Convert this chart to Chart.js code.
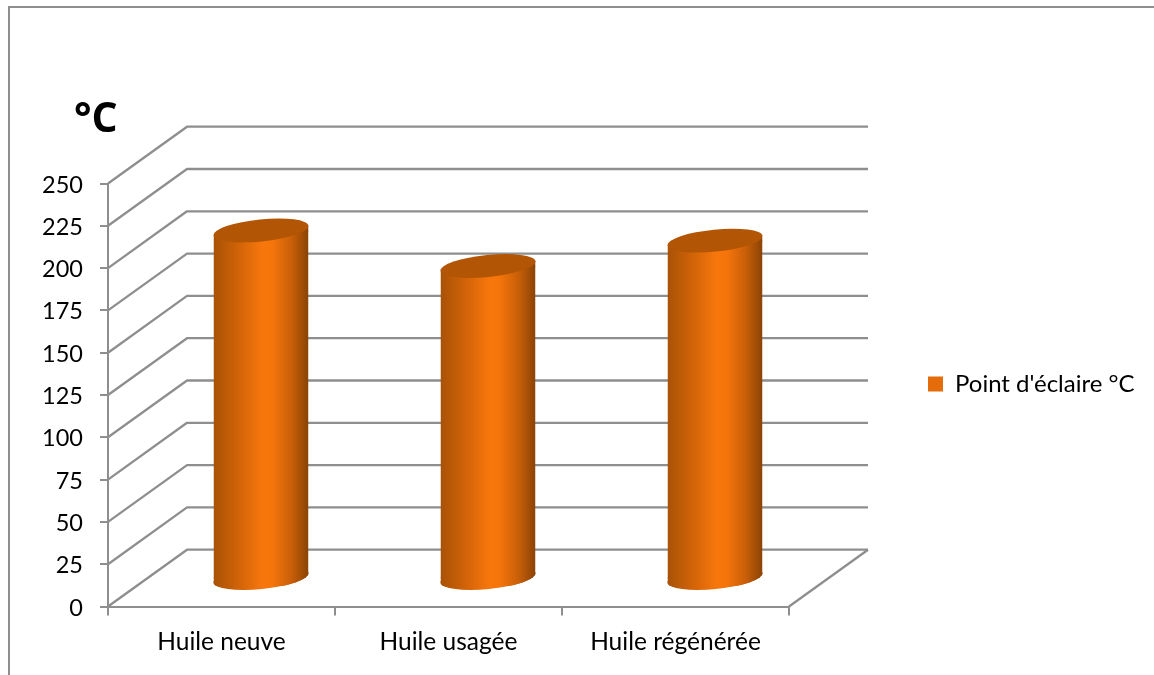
<!DOCTYPE html>
<html>
<head>
<meta charset="utf-8">
<title>Point d'éclaire</title>
<script src="https://cdn.jsdelivr.net/npm/chart.js@4/dist/chart.umd.min.js"></script>
<style>
    html, body { margin: 0; padding: 0; background: #fff; overflow: hidden; }
    #frame { position: absolute; left: 8px; top: 6px; width: 1146px; height: 669px; box-sizing: border-box;
             border-left: 2px solid #8e8e8e; border-top: 2px solid #8e8e8e; }
    #graph { position: absolute; left: 0; top: 0; }
</style>
</head>
<body>
<div id="frame"></div>
<canvas id="graph" width="1154" height="675"></canvas>
<script>
const categories = ['Huile neuve', 'Huile usagée', 'Huile régénérée'];
const seriesName = "Point d'éclaire °C";
const flashPoints = [206, 185, 200];
const yTicksMax = 250;
const yTicksStep = 25;

const FONT = 'Lato';
const GRID = '#8e8e8e';
const DEPTH_X = 79, DEPTH_Y = -56.8;    // back wall offset
const MID_X = 39.5, MID_Y = -27.5;      // cylinders stand halfway
const TILT = -5.7 * Math.PI / 180;
const MINOR = 11;

function cylinderGradient(ctx, cx, w) {
    const g = ctx.createLinearGradient(cx - w / 2, 0, cx + w / 2, 0);
    g.addColorStop(0, '#a85206');
    g.addColorStop(0.25, '#cf6208');
    g.addColorStop(0.52, '#f8770c');
    g.addColorStop(0.62, '#f5750b');
    g.addColorStop(0.82, '#c95f08');
    g.addColorStop(1, '#8a4305');
    return g;
}

const wallsAndCaps = {
    id: 'wallsAndCaps',
    afterLayout(chart) {
        // put the legend where the reference has it
        const l = chart.legend;
        l.left = 918; l.right = l.left + l.width;
        l.top = 362; l.bottom = l.top + l.height;
    },
    beforeDatasetsDraw(chart) {
        const { ctx, scales: { x, y } } = chart;
        const left = x.left, right = x.right;
        ctx.save();
        ctx.strokeStyle = GRID;
        ctx.lineWidth = 2.3;
        ctx.lineJoin = 'round';
        y.ticks.forEach(t => {
            const py = y.getPixelForValue(t.value);
            ctx.beginPath();
            ctx.moveTo(left, py);
            ctx.lineTo(left + DEPTH_X, py + DEPTH_Y);
            ctx.lineTo(right + DEPTH_X, py + DEPTH_Y);
            ctx.stroke();
        });
        const py0 = y.getPixelForValue(0);
        ctx.beginPath();
        ctx.moveTo(right, py0);
        ctx.lineTo(right + DEPTH_X, py0 + DEPTH_Y);
        ctx.stroke();

        // bottom of each cylinder, then clip the square bar ends to the curve
        const bars = chart.getDatasetMeta(0).data;
        const clip = new Path2D();
        bars.forEach(b => {
            const cx = b.x + MID_X, top = b.y + MID_Y, base = b.base + MID_Y;
            const a = b.width / 2 * 1.005;
            ctx.fillStyle = cylinderGradient(ctx, cx, b.width);
            ctx.beginPath();
            ctx.ellipse(cx, base, a, MINOR, TILT, 0, Math.PI * 2);
            ctx.fill();
            const ex = a * Math.cos(TILT), ey = a * Math.sin(TILT);
            clip.moveTo(cx - ex, top - ey);
            clip.lineTo(cx + ex, top + ey);
            clip.lineTo(cx + ex, base + ey);
            clip.ellipse(cx, base, a, MINOR, TILT, 0, Math.PI);
            clip.closePath();
        });
        ctx.clip(clip);
        // the tilted ends reach past the flat bar ends by a few pixels
        bars.forEach(b => {
            const cx = b.x + MID_X, top = b.y + MID_Y, base = b.base + MID_Y;
            ctx.fillStyle = cylinderGradient(ctx, cx, b.width);
            ctx.fillRect(cx - b.width / 2, top - 8, b.width, 9);
            ctx.fillRect(cx - b.width / 2, base - 1, b.width, 9);
        });
        ctx.translate(MID_X, MID_Y);
    },
    afterDatasetsDraw(chart) {
        const { ctx } = chart;
        ctx.restore();
        ctx.save();
        chart.getDatasetMeta(0).data.forEach(b => {
            ctx.fillStyle = '#b25606';
            ctx.beginPath();
            ctx.ellipse(b.x + MID_X, b.y + MID_Y, b.width / 2 * 1.005, MINOR, TILT, 0, Math.PI * 2);
            ctx.fill();
        });
        ctx.fillStyle = '#000';
        ctx.font = 'bold 41px "Open Sans"';
        ctx.textBaseline = 'alphabetic';
        ctx.fillText('°C', 74, 132);
        ctx.restore();
    }
};

new Chart(document.getElementById('graph'), {
    type: 'bar',
    data: {
        labels: categories,
        datasets: [{
            label: seriesName,
            data: flashPoints,
            barPercentage: 95 / 227,
            categoryPercentage: 1,
            backgroundColor: c => {
                const xs = c.chart.scales.x;
                if (!xs || c.dataIndex === undefined) return '#e46c0a';
                return cylinderGradient(c.chart.ctx, xs.getPixelForValue(c.dataIndex), xs.width / 3 * 95 / 227);
            }
        }]
    },
    options: {
        responsive: false,
        animation: false,
        layout: { padding: { left: 0, right: 365, top: 183.5, bottom: 0 } },
        plugins: {
            tooltip: { enabled: false },
            title: { display: false },
            legend: {
                position: 'chartArea',
                align: 'start',
                labels: {
                    boxWidth: 15,
                    boxHeight: 15,
                    padding: 10,
                    color: '#000',
                    font: { family: FONT, size: 24 },
                    generateLabels: chart => [{
                        text: chart.data.datasets[0].label,
                        fillStyle: '#e46c0a',
                        strokeStyle: '#e46c0a',
                        lineWidth: 0,
                        hidden: false,
                        datasetIndex: 0
                    }]
                }
            }
        },
        scales: {
            x: {
                afterFit: s => { s.height = 68.5; },
                grid: { display: true, drawOnChartArea: false, color: GRID, lineWidth: 2, tickLength: 9 },
                border: { color: GRID, width: 2 },
                ticks: { color: '#000', padding: 12, maxRotation: 0, font: { family: FONT, size: 24.5 } }
            },
            y: {
                min: 0,
                max: yTicksMax,
                afterFit: s => { s.width = 108; },
                grid: { display: true, drawOnChartArea: false, color: GRID, lineWidth: 2, tickLength: 8 },
                border: { color: GRID, width: 2 },
                ticks: { stepSize: yTicksStep, color: '#000', padding: 17, labelOffset: 1.5, font: { family: FONT, size: 23.5 } }
            }
        }
    },
    plugins: [wallsAndCaps]
});
</script>
</body>
</html>
